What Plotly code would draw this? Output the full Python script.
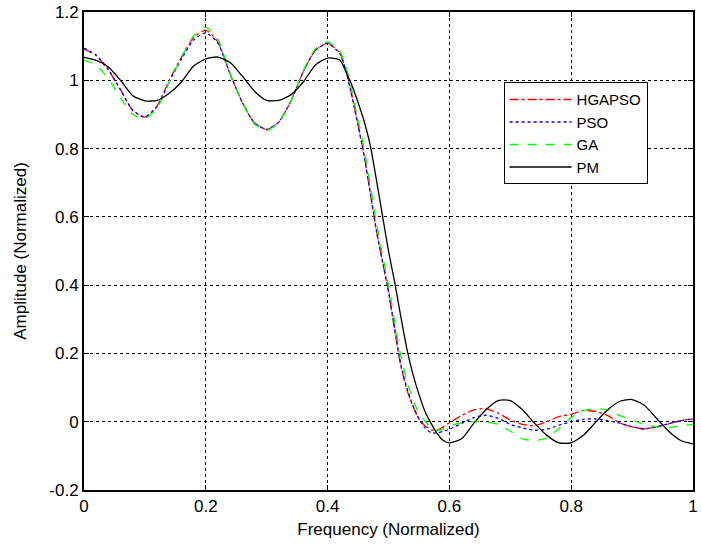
import plotly.graph_objects as go

freq = [0.00, 0.02, 0.04, 0.06, 0.08, 0.10, 0.12, 0.14, 0.16, 0.18,
        0.20, 0.22, 0.24, 0.26, 0.28, 0.30, 0.32, 0.34, 0.36, 0.38,
        0.40, 0.42, 0.43, 0.44, 0.45, 0.46, 0.47, 0.48, 0.49, 0.50,
        0.51, 0.52, 0.53, 0.54, 0.55, 0.56, 0.57, 0.58, 0.59, 0.60,
        0.62, 0.64, 0.66, 0.68, 0.70, 0.72, 0.74, 0.76, 0.78, 0.80,
        0.82, 0.84, 0.86, 0.88, 0.90, 0.92, 0.94, 0.96, 0.98, 1.00]

hgapso = [1.092, 1.072, 1.030, 0.972, 0.912, 0.892, 0.925, 1.000, 1.068, 1.125,
          1.147, 1.112, 1.018, 0.935, 0.875, 0.856, 0.878, 0.940, 1.025, 1.088,
          1.109, 1.080, 1.030, 0.955, 0.870, 0.780, 0.670, 0.560, 0.470, 0.380,
          0.270, 0.165, 0.095, 0.045, 0.008, -0.012, -0.024, -0.025, -0.015, -0.003,
          0.018, 0.035, 0.038, 0.025, 0.005, -0.008, -0.012, 0.000, 0.015, 0.022,
          0.033, 0.030, 0.018, -0.004, -0.015, -0.021, -0.015, -0.006, 0.003, 0.008]

pso = [1.094, 1.074, 1.032, 0.972, 0.912, 0.892, 0.922, 0.995, 1.062, 1.118,
       1.139, 1.108, 1.018, 0.935, 0.875, 0.856, 0.878, 0.940, 1.025, 1.088,
       1.108, 1.078, 1.028, 0.952, 0.868, 0.778, 0.672, 0.562, 0.472, 0.382,
       0.275, 0.170, 0.100, 0.048, 0.008, -0.018, -0.032, -0.033, -0.028, -0.022,
       -0.005, 0.012, 0.019, 0.010, -0.008, -0.018, -0.025, -0.022, -0.010, 0.000,
       0.007, 0.008, 0.003, -0.004, -0.015, -0.021, -0.015, -0.006, 0.003, 0.009]

ga = [1.059, 1.045, 1.005, 0.948, 0.900, 0.888, 0.918, 0.995, 1.068, 1.130,
      1.155, 1.120, 1.020, 0.935, 0.872, 0.853, 0.876, 0.940, 1.028, 1.092,
      1.112, 1.085, 1.040, 0.968, 0.885, 0.800, 0.695, 0.585, 0.490, 0.400,
      0.295, 0.195, 0.120, 0.065, 0.025, 0.002, -0.018, -0.026, -0.020, -0.012,
      -0.003, 0.000, 0.000, -0.008, -0.028, -0.050, -0.055, -0.048, -0.020, 0.012,
      0.032, 0.038, 0.035, 0.018, 0.005, -0.008, -0.015, -0.017, -0.012, -0.008]

pm = [1.067, 1.058, 1.039, 1.000, 0.955, 0.940, 0.941, 0.962, 0.995, 1.042,
      1.063, 1.068, 1.052, 1.012, 0.968, 0.941, 0.941, 0.958, 0.995, 1.045,
      1.065, 1.060, 1.025, 0.985, 0.935, 0.880, 0.810, 0.710, 0.605, 0.500,
      0.410, 0.310, 0.215, 0.140, 0.080, 0.030, -0.005, -0.035, -0.055, -0.062,
      -0.050, -0.005, 0.035, 0.062, 0.062, 0.035, -0.005, -0.040, -0.062, -0.062,
      -0.040, -0.002, 0.035, 0.060, 0.065, 0.048, 0.010, -0.028, -0.055, -0.065]

x_ticks = [0, 0.2, 0.4, 0.6, 0.8, 1.0]
x_labels = ["0", "0.2", "0.4", "0.6", "0.8", "1"]
y_ticks = [-0.2, 0, 0.2, 0.4, 0.6, 0.8, 1.0, 1.2]
y_labels = ["-0.2", "0", "0.2", "0.4", "0.6", "0.8", "1", "1.2"]

series = [
    ("HGAPSO", hgapso, "#ff0000", "dashdot"),
    ("PSO", pso, "#0000ff", "dot"),
    ("GA", ga, "#00ff00", "dash"),
    ("PM", pm, "#000000", "solid"),
]

fig = go.Figure()
for name, vals, color, dash in series:
    fig.add_trace(go.Scatter(
        x=freq, y=vals, name=name, mode="lines",
        line=dict(color=color, width=1.3, dash=dash, shape="spline", smoothing=0.6),
    ))

axis_common = dict(
    showline=True, linecolor="black", linewidth=2, mirror="ticks",
    ticks="inside", ticklen=5, tickcolor="black", tickwidth=1,
    showgrid=True, gridcolor="black", griddash="dot", gridwidth=1,
    zeroline=False, tickfont=dict(size=17, color="black"),
)

fig.update_xaxes(range=[0, 1], tickvals=x_ticks, ticktext=x_labels,
                 title=dict(text="Frequency (Normalized)", font=dict(size=17, color="black"), standoff=8),
                 **axis_common)
fig.update_yaxes(range=[-0.2, 1.2], tickvals=y_ticks, ticktext=y_labels,
                 title=dict(text="Amplitude (Normalized)", font=dict(size=17, color="black"), standoff=18),
                 **axis_common)

fig.update_layout(
    width=701, height=548,
    margin=dict(l=84, r=3, t=12, b=58),
    paper_bgcolor="white", plot_bgcolor="white",
    font=dict(family="Liberation Sans, Arial, sans-serif", color="black"),
    legend=dict(x=0.689, y=0.853, xanchor="left", yanchor="top",
                bgcolor="white", bordercolor="black", borderwidth=1,
                font=dict(size=15, color="black"), itemwidth=62,
                tracegroupgap=0),
    showlegend=True,
)

fig.write_html("out.html")
